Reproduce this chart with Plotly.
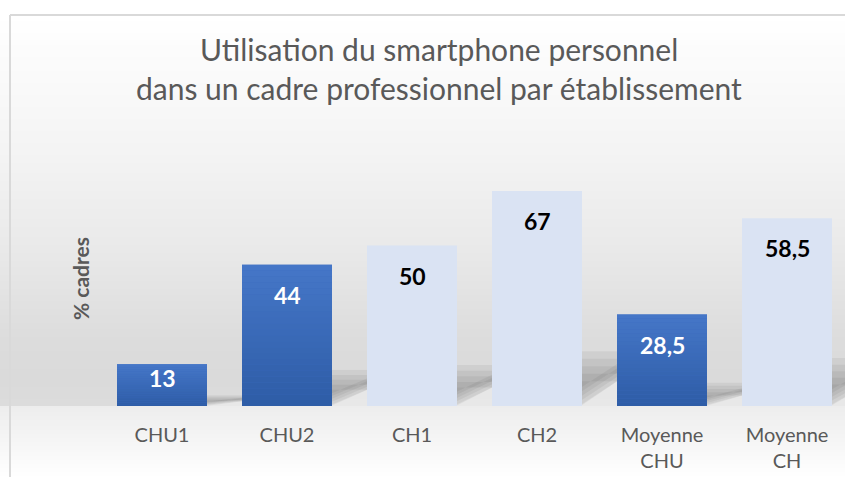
import plotly.graph_objects as go

# --- data -------------------------------------------------------------
etablissements = ["CHU1", "CHU2", "CH1", "CH2", "Moyenne CHU", "Moyenne CH"]
type_etab = ["CHU", "CHU", "CH", "CH", "CHU", "CH"]
pct_cadres = [13, 44, 50, 67, 28.5, 58.5]

titre = ["Utilisation du smartphone personnel",
         "dans un cadre professionnel par établissement"]
titre_axe_y = "% cadres"

# --- layout constants ---------------------------------------------------
W, H = 845, 477
FONT = "Lato"
GRIS_TXT = "#595959"
BLEU_HAUT, BLEU_BAS = "#4577c8", "#2e5ca6"
BLEU = "#3c6dbf"
BLEU_CLAIR = "#dae3f3"

Y_MAX = 75
X_RANGE = [-0.5, 5.464]
DOM_X = [99.5 / W, 1.0]
DOM_Y = [(H - 406) / H, (H - 165.25) / H]
BAR_W = 0.72

plot_h_px = (DOM_Y[1] - DOM_Y[0]) * H
px_per_unit = plot_h_px / Y_MAX
px_per_cat = (DOM_X[1] - DOM_X[0]) * W / (X_RANGE[1] - X_RANGE[0])

couleurs = [BLEU if t == "CHU" else BLEU_CLAIR for t in type_etab]
couleurs_txt = ["white" if t == "CHU" else "black" for t in type_etab]

fig = go.Figure()
fig.add_trace(go.Bar(
    x=etablissements, y=pct_cadres, width=BAR_W,
    marker=dict(color=couleurs, line=dict(width=0)),
    hoverinfo="x+y",
))

shapes = []


def hexmix(c1, c2, t):
    a = [int(c1[i:i + 2], 16) for i in (1, 3, 5)]
    b = [int(c2[i:i + 2], 16) for i in (1, 3, 5)]
    return "#" + "".join(f"{round(a[k] + (b[k] - a[k]) * t):02x}" for k in range(3))


def gradient(stops, y_top, y_bot, step=2):
    # stops: list of (pixel y, colour); horizontal strips in paper coords
    y = y_top
    while y < y_bot:
        yc = y + step / 2
        for (p0, c0), (p1, c1) in zip(stops, stops[1:]):
            if p0 <= yc <= p1:
                col = hexmix(c0, c1, (yc - p0) / (p1 - p0))
                break
        else:
            col = stops[-1][1]
        shapes.append(dict(
            type="rect", xref="paper", yref="paper", layer="below",
            x0=0, x1=1, y0=1 - min(y + step, y_bot) / H, y1=1 - y / H,
            fillcolor=col, line=dict(width=0)))
        y += step


# back wall and floor
gradient([(15, "#ffffff"), (150, "#f4f4f4"), (250, "#e9e9e9"),
          (340, "#dcdcdc"), (380, "#dadada"), (406, "#dcdcdc")], 15, 406)
gradient([(406, "#ededed"), (440, "#f5f5f5"), (477, "#ffffff")], 406, H)

# soft shadows cast on the wall to the right of each bar
for i, v in enumerate(pct_cadres):
    h = v * px_per_unit
    xa = i + BAR_W / 2 - 0.01
    xb = xa + 48 / px_per_cat
    slope = 0.11 * h / 35            # rise of the lower edge, px per px
    low_b = 48 * slope
    top = 0.255 * h
    # lighter wedge under the shadow
    shapes.append(dict(
        type="path", xref="x", yref="y", layer="below",
        path=f"M {xa},0 L {xb},0 L {xb},{low_b / px_per_unit} Z",
        fillcolor="#ffffff", opacity=0.35, line=dict(width=0)))
    for k in range(6):
        t_px = top - k * 0.035 * h
        l_a = 1 + k * 0.02 * h
        l_b = low_b + k * 0.02 * h
        if t_px <= l_a:
            break
        path = (f"M {xa},{l_a / px_per_unit} L {xb},{l_b / px_per_unit} "
                f"L {xb},{t_px / px_per_unit} L {xa},{t_px / px_per_unit} Z")
        shapes.append(dict(type="path", path=path, xref="x", yref="y",
                           layer="below", fillcolor="#000000", opacity=0.05,
                           line=dict(width=0)))

# vertical shading of the dark blue bars
N_STRIPS = 24
for i, (v, t) in enumerate(zip(pct_cadres, type_etab)):
    if t != "CHU":
        continue
    for s in range(N_STRIPS):
        shapes.append(dict(
            type="rect", xref="x", yref="y", layer="above",
            x0=i - BAR_W / 2, x1=i + BAR_W / 2,
            y0=v * (1 - (s + 1) / N_STRIPS), y1=v * (1 - s / N_STRIPS),
            fillcolor=hexmix(BLEU_HAUT, BLEU_BAS, (s + 0.5) / N_STRIPS),
            line=dict(width=0)))

# chart frame
shapes.append(dict(type="line", xref="paper", yref="paper", x0=10 / W, x1=1,
                   y0=1 - 15 / H, y1=1 - 15 / H,
                   line=dict(color="#d9d9d9", width=2)))
shapes.append(dict(type="line", xref="paper", yref="paper", x0=10 / W, x1=10 / W,
                   y0=0, y1=1 - 15 / H,
                   line=dict(color="#d9d9d9", width=2)))

annotations = []
# value labels inside the bars
for i, (v, c) in enumerate(zip(pct_cadres, couleurs_txt)):
    bar_px = v * px_per_unit
    offset = min(30, bar_px - 28)
    annotations.append(dict(
        x=i, y=v, xref="x", yref="y", yanchor="middle", yshift=-offset,
        text=f"{v:g}".replace(".", ","), showarrow=False,
        font=dict(family=FONT, size=23, color=c, weight="bold")))

# title lines
for txt, ypx in zip(titre, [49, 88]):
    annotations.append(dict(
        x=439 / W, y=1 - ypx / H, xref="paper", yref="paper",
        xanchor="center", yanchor="middle", text=txt, showarrow=False,
        font=dict(family=FONT, size=30, color=GRIS_TXT)))

# y axis title
annotations.append(dict(
    x=80 / W, y=1 - 279 / H, xref="paper", yref="paper",
    xanchor="center", yanchor="middle", text=f"<b>{titre_axe_y}</b>",
    textangle=-90, showarrow=False,
    font=dict(family=FONT, size=21, color=GRIS_TXT)))

fig.update_layout(
    width=W, height=H,
    margin=dict(l=0, r=0, t=0, b=0),
    paper_bgcolor="white", plot_bgcolor="rgba(0,0,0,0)",
    showlegend=False,
    shapes=shapes, annotations=annotations,
    xaxis=dict(domain=DOM_X, range=X_RANGE, showgrid=False, zeroline=False,
               showline=False, ticks="",
               tickvals=etablissements,
               ticktext=[e.replace(" ", "<br>") for e in etablissements],
               tickfont=dict(family=FONT, size=20, color=GRIS_TXT),
               ticklabelstandoff=15, automargin=False),
    yaxis=dict(domain=DOM_Y, range=[0, Y_MAX], showgrid=False, zeroline=False,
               showline=False, showticklabels=False, ticks="", automargin=False),
)

fig.write_html("out.html")
